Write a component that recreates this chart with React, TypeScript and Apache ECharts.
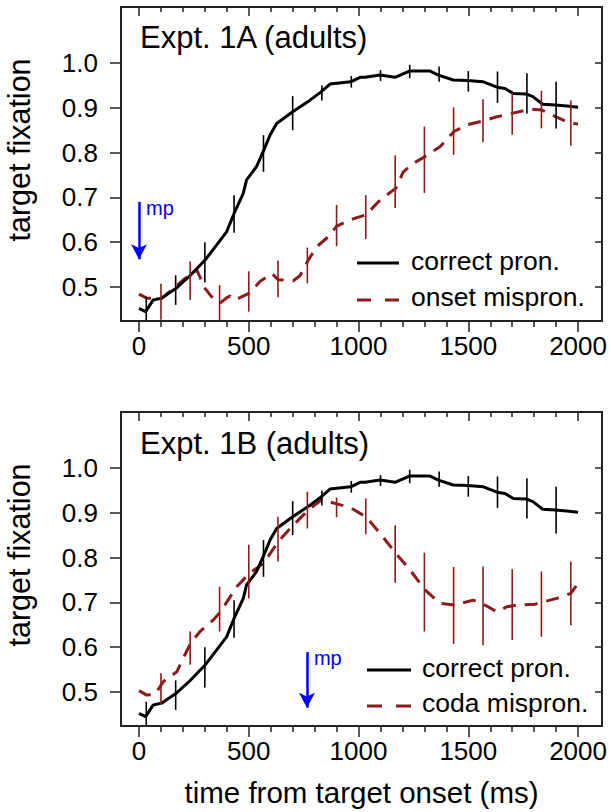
import React, { useEffect, useRef } from "react";
import * as echarts from "echarts";

const FONT = "'Liberation Sans', Arial, Helvetica, sans-serif";
const RED = "#8c1c1c";
const BLUE = "#0000ff";
const AX = "#222";

// axis ticks / labels
const majorTicksX = [0, 500, 1000, 1500, 2000];
const minorTicksX = [100, 200, 300, 400, 600, 700, 800, 900, 1100, 1200, 1300, 1400, 1600, 1700, 1800, 1900];
const ticksY = [0.5, 0.6, 0.7, 0.8, 0.9, 1.0];

// correct pronunciation (same adult curve in both experiments): [time ms, fixation]
const correctPron: [number, number][] = [
  [0, 0.452], [30, 0.445], [65, 0.471], [103, 0.475], [169, 0.497], [232, 0.525],
  [301, 0.56], [354, 0.594], [399, 0.623], [433, 0.664], [475, 0.709], [490, 0.739],
  [536, 0.769], [562, 0.798], [597, 0.839], [627, 0.865], [700, 0.891], [779, 0.917],
  [828, 0.935], [870, 0.953], [964, 0.958], [1007, 0.968], [1030, 0.968], [1098, 0.973],
  [1166, 0.968], [1232, 0.982], [1326, 0.982], [1364, 0.973], [1432, 0.962], [1496, 0.961],
  [1569, 0.958], [1630, 0.946], [1667, 0.943], [1705, 0.932], [1763, 0.931], [1794, 0.925],
  [1839, 0.908], [1895, 0.906], [1949, 0.904], [2000, 0.901],
];
// [time, centre, half-length]
const correctErr: [number, number, number][] = [
  [33, 0.452, 0.026], [167, 0.493, 0.033], [300, 0.555, 0.045], [433, 0.663, 0.042],
  [567, 0.798, 0.041], [700, 0.888, 0.038], [833, 0.933, 0.017], [967, 0.958, 0.013],
  [1100, 0.972, 0.012], [1233, 0.981, 0.015], [1367, 0.975, 0.017], [1500, 0.959, 0.023],
  [1633, 0.946, 0.035], [1767, 0.932, 0.045], [1900, 0.906, 0.052],
];

// Expt 1A onset mispronunciation
const onsetMispron: [number, number][] = [
  [0, 0.484], [35, 0.475], [103, 0.475], [149, 0.493], [202, 0.516], [263, 0.538],
  [301, 0.497], [331, 0.478], [369, 0.464], [400, 0.476], [415, 0.48], [430, 0.472],
  [460, 0.476], [503, 0.486], [551, 0.512], [605, 0.53], [635, 0.516], [703, 0.514],
  [733, 0.525], [771, 0.56], [810, 0.59], [862, 0.612], [901, 0.636], [961, 0.65],
  [1034, 0.661], [1098, 0.694], [1169, 0.72], [1204, 0.757], [1250, 0.776], [1303, 0.791],
  [1371, 0.813], [1435, 0.847], [1493, 0.862], [1569, 0.871], [1630, 0.88], [1703, 0.888],
  [1781, 0.897], [1835, 0.895], [1903, 0.879], [1967, 0.865], [2000, 0.864],
];
const onsetErr: [number, number, number][] = [
  [100, 0.467, 0.04], [233, 0.514, 0.043], [367, 0.465, 0.039], [500, 0.49, 0.045],
  [633, 0.518, 0.041], [767, 0.548, 0.04], [900, 0.637, 0.046], [1033, 0.656, 0.049],
  [1167, 0.735, 0.059], [1300, 0.784, 0.074], [1433, 0.848, 0.053], [1567, 0.871, 0.048],
  [1700, 0.887, 0.047], [1833, 0.896, 0.042], [1967, 0.866, 0.051],
];

// Expt 1B coda mispronunciation
const codaMispron: [number, number][] = [
  [0, 0.503], [35, 0.493], [73, 0.495], [111, 0.523], [172, 0.545], [235, 0.609],
  [278, 0.635], [339, 0.661], [372, 0.679], [399, 0.7], [445, 0.735], [503, 0.765],
  [566, 0.787], [635, 0.836], [696, 0.869], [771, 0.906], [832, 0.929], [901, 0.92],
  [961, 0.912], [1034, 0.891], [1098, 0.854], [1169, 0.81], [1235, 0.772], [1303, 0.728],
  [1371, 0.698], [1435, 0.694], [1523, 0.705], [1568, 0.696], [1630, 0.679], [1675, 0.69],
  [1721, 0.694], [1804, 0.696], [1872, 0.705], [1903, 0.709], [1967, 0.72], [2000, 0.743],
];
const codaErr: [number, number, number][] = [
  [100, 0.507, 0.035], [233, 0.598, 0.037], [367, 0.685, 0.05], [500, 0.769, 0.06],
  [633, 0.841, 0.05], [767, 0.906, 0.041], [900, 0.912, 0.022], [1033, 0.892, 0.04],
  [1167, 0.808, 0.064], [1300, 0.723, 0.088], [1433, 0.693, 0.086], [1567, 0.692, 0.088],
  [1700, 0.695, 0.079], [1833, 0.696, 0.073], [1967, 0.72, 0.071],
];

// "mp" (mispronunciation point) arrows: [time, arrow top, arrow end, label y]
const mpArrow1A = [0, 0.69, 0.562, 0.676];
const mpArrow1B = [765, 0.589, 0.465, 0.575];

const panelTitles = ["Expt. 1A (adults)", "Expt. 1B (adults)"];
const legendNames = [
  ["correct pron.", "onset mispron."],
  ["correct pron.", "coda mispron."],
];

const X_MIN = -82;
const X_MAX = 2109;
const Y_MIN = 0.424;
const Y_MAX = 1.125;

const tickStyle = { color: AX, width: 1.5 };

function xAxesFor(gridIndex: number) {
  const base = {
    type: "value",
    gridIndex,
    min: X_MIN,
    max: X_MAX,
    splitLine: { show: false },
    axisLine: { show: false, onZero: false },
  };
  return [
    {
      ...base,
      position: "bottom",
      axisTick: { show: true, customValues: majorTicksX, length: 11, lineStyle: tickStyle },
      axisLabel: {
        show: true,
        customValues: majorTicksX,
        fontSize: 26,
        color: "#000",
        margin: 12,
        fontFamily: FONT,
        formatter: (v: number) => String(Math.round(v)),
      },
    },
    {
      ...base,
      position: "bottom",
      axisTick: { show: true, customValues: minorTicksX, length: 6, lineStyle: tickStyle },
      axisLabel: { show: false },
    },
    {
      ...base,
      position: "top",
      axisTick: { show: true, inside: true, customValues: majorTicksX, length: 9, lineStyle: tickStyle },
      axisLabel: { show: false },
    },
    {
      ...base,
      position: "top",
      axisTick: { show: true, inside: true, customValues: minorTicksX, length: 5, lineStyle: tickStyle },
      axisLabel: { show: false },
    },
  ];
}

function yAxesFor(gridIndex: number) {
  const base = {
    type: "value",
    gridIndex,
    min: Y_MIN,
    max: Y_MAX,
    splitLine: { show: false },
    axisLine: { show: false, onZero: false },
  };
  return [
    {
      ...base,
      position: "left",
      axisTick: { show: true, customValues: ticksY, length: 11, lineStyle: tickStyle },
      axisLabel: {
        show: true,
        customValues: ticksY,
        fontSize: 26,
        color: "#000",
        margin: 23,
        fontFamily: FONT,
        formatter: (v: number) => v.toFixed(1),
      },
    },
    {
      ...base,
      position: "right",
      axisTick: { show: true, inside: true, customValues: ticksY, length: 7, lineStyle: tickStyle },
      axisLabel: { show: false },
    },
  ];
}

function errSeries(data: [number, number, number][], color: string, xi: number, yi: number) {
  return {
    type: "custom",
    xAxisIndex: xi,
    yAxisIndex: yi,
    clip: true,
    z: 4,
    silent: true,
    encode: { x: 0, y: [1, 2] },
    data: data.map(([t, c, h]) => [t, c - h, c + h]),
    renderItem: (_p: any, api: any) => {
      const a = api.coord([api.value(0), api.value(1)]);
      const b = api.coord([api.value(0), api.value(2)]);
      return {
        type: "line",
        shape: { x1: a[0], y1: a[1], x2: b[0], y2: b[1] },
        style: { stroke: color, lineWidth: 1.6 },
      };
    },
  };
}

function mpSeries(arrow: number[], xi: number, yi: number) {
  const [t, top, end, labY] = arrow;
  return {
    type: "line",
    xAxisIndex: xi,
    yAxisIndex: yi,
    data: [],
    silent: true,
    markLine: {
      silent: true,
      symbol: ["none", "arrow"],
      symbolSize: [12, 15],
      label: { show: false },
      lineStyle: { color: BLUE, width: 2.5, type: "solid" },
      data: [[{ coord: [t, top] }, { coord: [t, end] }]],
    },
    markPoint: {
      silent: true,
      symbol: "circle",
      symbolSize: 0,
      itemStyle: { color: "transparent" },
      label: {
        show: true,
        formatter: "mp",
        position: "right",
        distance: 7,
        color: BLUE,
        fontSize: 20,
        fontFamily: FONT,
      },
      data: [{ coord: [t, labY] }],
    },
  };
}

function lineSeries(data: [number, number][], color: string, dashed: boolean, xi: number, yi: number, z: number) {
  return {
    type: "line",
    xAxisIndex: xi,
    yAxisIndex: yi,
    data,
    showSymbol: false,
    symbol: "none",
    silent: true,
    z,
    lineStyle: { color, width: 3, type: dashed ? [13, 9] : "solid", cap: "butt" },
  };
}

function legendGraphic(x1: number, x2: number, textX: number, y1: number, y2: number, names: string[], dash: number[]) {
  return [
    { type: "line", shape: { x1, y1, x2, y2: y1 }, style: { stroke: "#000", lineWidth: 3 } },
    { type: "line", shape: { x1, y1: y2, x2, y2 }, style: { stroke: RED, lineWidth: 3, lineDash: dash } },
    {
      type: "text",
      x: textX,
      y: y1 - 2,
      style: { text: names[0], fontSize: 26.5, fontFamily: FONT, fill: "#000", textAlign: "left", textVerticalAlign: "middle" },
    },
    {
      type: "text",
      x: textX,
      y: y2 - 3,
      style: { text: names[1], fontSize: 26.5, fontFamily: FONT, fill: "#000", textAlign: "left", textVerticalAlign: "middle" },
    },
  ];
}

export default function App() {
  const ref = useRef<HTMLDivElement>(null);
  useEffect(() => {
    if (!ref.current) return;
    const chart = echarts.init(ref.current, null, { renderer: "svg" });
    const gridBase = { left: 121, width: 481, height: 314, show: true, borderColor: AX, borderWidth: 2, backgroundColor: "transparent" };
    const option: any = {
      animation: false,
      textStyle: { fontFamily: FONT },
      grid: [
        { ...gridBase, top: 7 },
        { ...gridBase, top: 412 },
      ],
      xAxis: [...xAxesFor(0), ...xAxesFor(1)],
      yAxis: [...yAxesFor(0), ...yAxesFor(1)],
      series: [
        lineSeries(onsetMispron, RED, true, 0, 0, 2),
        lineSeries(correctPron, "#000", false, 0, 0, 3),
        errSeries(onsetErr, RED, 0, 0),
        errSeries(correctErr, "#000", 0, 0),
        mpSeries(mpArrow1A, 0, 0),
        lineSeries(codaMispron, RED, true, 4, 2, 2),
        lineSeries(correctPron, "#000", false, 4, 2, 3),
        errSeries(codaErr, RED, 4, 2),
        errSeries(correctErr, "#000", 4, 2),
        mpSeries(mpArrow1B, 4, 2),
      ],
      graphic: [
        {
          type: "text",
          x: 140,
          y: 37,
          style: { text: panelTitles[0], fontSize: 31, fontFamily: FONT, fill: "#000", textAlign: "left", textVerticalAlign: "middle" },
        },
        {
          type: "text",
          x: 140,
          y: 443,
          style: { text: panelTitles[1], fontSize: 31, fontFamily: FONT, fill: "#000", textAlign: "left", textVerticalAlign: "middle" },
        },
        {
          type: "text",
          x: 19,
          y: 150,
          rotation: Math.PI / 2,
          style: { text: "target fixation", fontSize: 30.5, fontFamily: FONT, fill: "#000", textAlign: "center", textVerticalAlign: "middle" },
        },
        {
          type: "text",
          x: 19,
          y: 555,
          rotation: Math.PI / 2,
          style: { text: "target fixation", fontSize: 30.5, fontFamily: FONT, fill: "#000", textAlign: "center", textVerticalAlign: "middle" },
        },
        {
          type: "text",
          x: 361.5,
          y: 792,
          style: { text: "time from target onset (ms)", fontSize: 29.5, fontFamily: FONT, fill: "#000", textAlign: "center", textVerticalAlign: "middle" },
        },
        ...legendGraphic(357, 399, 411, 263, 300, legendNames[0], [14, 14]),
        ...legendGraphic(367, 411, 422, 670, 706, legendNames[1], [15, 14]),
      ],
    };
    chart.setOption(option);
    return () => chart.dispose();
  }, []);
  return (
    <div
      ref={ref}
      style={{ position: "fixed", left: 0, top: 0, width: 611, height: 812, background: "#fff" }}
    />
  );
}
